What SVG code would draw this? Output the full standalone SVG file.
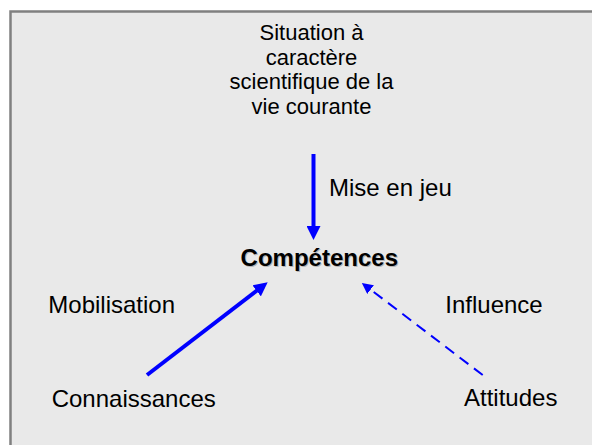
<svg xmlns="http://www.w3.org/2000/svg" width="592" height="445" viewBox="0 0 592 445">
<style>
text { font-family: "Liberation Sans", Arial, sans-serif; fill: #000; }
.lbl { font-size: 24px; }
.top { font-size: 22px; text-anchor: middle; }
.bold { font-size: 24px; font-weight: bold; text-anchor: middle; }
.shadow { fill: #b4b4b4; }
.solid { stroke: #0000ff; stroke-width: 4; fill: none; }
.dashed { stroke: #0000ff; stroke-width: 2; fill: none; stroke-dasharray: 11 7; }
</style>
<defs>
<marker id="headBig" markerUnits="userSpaceOnUse" markerWidth="14" markerHeight="14" viewBox="0 0 14 14" refX="1" refY="7" orient="auto">
<path d="M0,0 L14,7 L0,14 z" fill="#0000ff"/>
</marker>
<marker id="headSmall" markerUnits="userSpaceOnUse" markerWidth="11" markerHeight="11" viewBox="0 0 11 11" refX="1" refY="5.5" orient="auto">
<path d="M0,0 L11,5.5 L0,11 z" fill="#0000ff"/>
</marker>
</defs>
<rect x="0" y="0" width="592" height="445" fill="#ffffff"/>
<rect id="frame" x="10.5" y="11.5" width="620" height="480" fill="#e9e9e9" stroke="#808080" stroke-width="2.5"/>

<g id="connectors">
<line class="solid" x1="313.5" y1="154" x2="313.5" y2="227" marker-end="url(#headBig)"/>
<line class="solid" x1="147" y1="375" x2="257.4" y2="290.2" marker-end="url(#headBig)"/>
<line class="dashed" x1="482.7" y1="375" x2="369.8" y2="289" marker-end="url(#headSmall)"/>
</g>

<g id="situation">
<text class="top" x="311.5" y="40">Situation à</text>
<text class="top" x="311.5" y="65">caractère</text>
<text class="top" x="311.5" y="89">scientifique de la</text>
<text class="top" x="311.5" y="114">vie courante</text>
</g>

<g id="competences">
<text class="bold shadow" x="320.3" y="267">Compétences</text>
<text class="bold" x="319.3" y="266">Compétences</text>
</g>

<g id="connaissances">
<text class="lbl" x="51.7" y="407">Connaissances</text>
</g>

<g id="attitudes">
<text class="lbl" x="464" y="405.5">Attitudes</text>
</g>

<g id="labels">
<text class="lbl" x="329" y="196">Mise en jeu</text>
<text class="lbl" x="48.3" y="313">Mobilisation</text>
<text class="lbl" x="445.3" y="312.5">Influence</text>
</g>
</svg>
